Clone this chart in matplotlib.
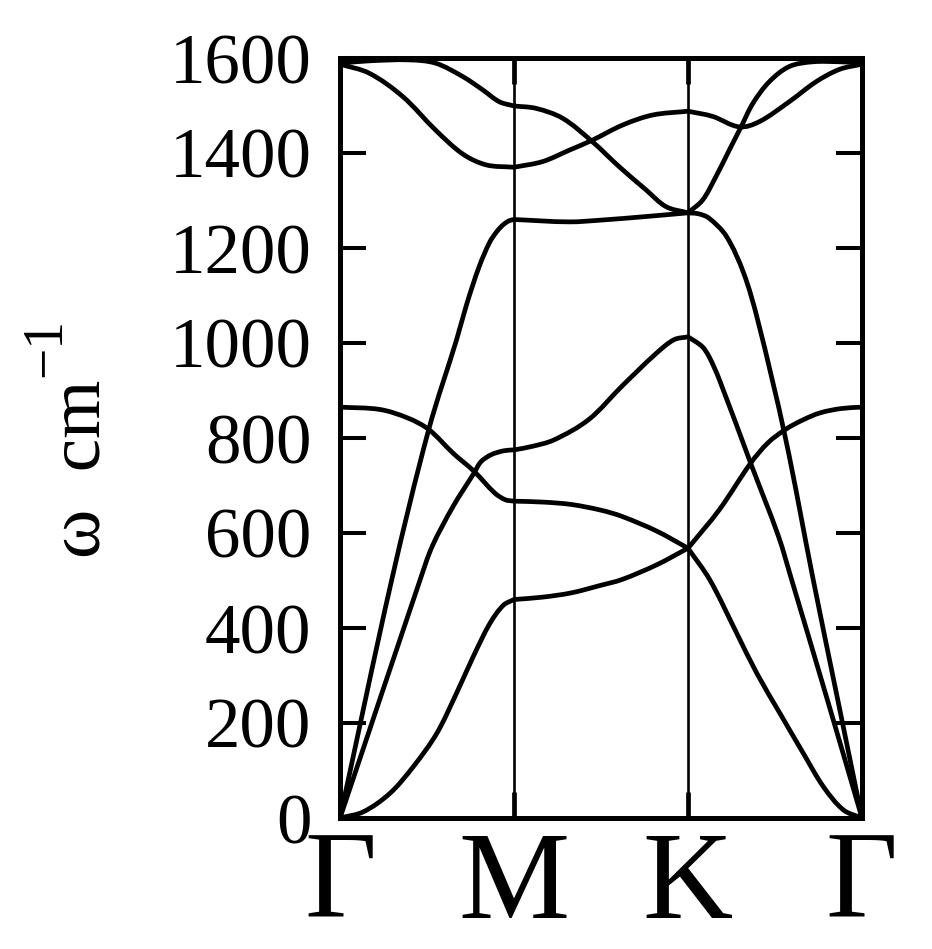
import matplotlib
matplotlib.use("Agg")
import numpy as np
import matplotlib.pyplot as plt
from matplotlib.path import Path
from matplotlib.patches import PathPatch

# k-path positions (segment units: Γ=0, M=1, K=2, Γ=3)
kpts = [0, 1, 2, 3]
klabels = ["Γ", "M", "K", "Γ"]
yticks = [0, 200, 400, 600, 800, 1000, 1200, 1400, 1600]

ZA_t = [0, 0.134, 0.287, 0.421, 0.556, 0.67, 0.766, 0.862, 0.939, 1.0,
        1.165, 1.33, 1.5, 1.62, 1.82, 2.0,
        2.126, 2.28, 2.395, 2.529, 2.663, 2.778, 2.893, 3.0]
ZA_v = [0, 13, 52, 108, 178, 263, 340, 410, 448, 460,
        465, 474, 490, 502, 533, 568,
        501, 389, 305, 220, 136, 66, 17, 0]

ZO_t = [0, 0.23, 0.39, 0.51, 0.65, 0.77, 0.89, 0.95, 1.0,
        1.17, 1.33, 1.5, 1.62, 1.82, 2.0,
        2.18, 2.36, 2.46, 2.56, 2.66, 2.76, 2.88, 3.0]
ZO_v = [865, 860, 842, 818, 768, 730, 684, 670, 667,
        665, 660, 648, 635, 604, 568,
        649, 747, 790, 818, 838, 853, 862, 865]

TA_t = [0, 0.46, 0.53, 0.65, 0.77, 0.81, 0.87, 0.94, 1.0,
        1.1, 1.23, 1.43, 1.62, 1.82, 1.92, 2.0,
        2.08, 2.12, 2.18, 2.36, 2.52, 2.596, 2.80, 3.0]
TA_v = [0, 501, 572, 656, 726, 750, 765, 773, 775,
        782, 796, 839, 909, 979, 1007, 1013,
        993, 972, 923, 747, 593, 501, 250, 0]

LA_t = [0, 0.297, 0.51, 0.67, 0.73, 0.80, 0.86, 0.90, 0.935, 0.97, 1.0,
        1.318, 1.51, 1.75, 2.0,
        2.06, 2.12, 2.22, 2.32, 2.40, 2.56, 2.72, 2.86, 3.0]
LA_v = [0, 501, 818, 1007, 1084, 1161, 1212, 1234, 1248, 1257, 1260,
        1255, 1259, 1266, 1274,
        1272, 1263, 1225, 1147, 1049, 800, 501, 250, 0]

OA_t = [0, 0.168, 0.40, 0.55, 0.705, 0.82, 0.915, 1.0,
        1.126, 1.28, 1.45, 1.605, 1.76, 1.874, 2.0,
        2.084, 2.16, 2.237, 2.305, 2.372, 2.467, 2.582, 2.717, 2.87, 3.0]
OA_v = [1589, 1594, 1596, 1589, 1561, 1533, 1508, 1499,
        1494, 1473, 1424, 1371, 1322, 1287, 1274,
        1301, 1350, 1406, 1455, 1504, 1550, 1582, 1592, 1592, 1590]

OB_t = [0, 0.168, 0.36, 0.55, 0.705, 0.84, 1.0,
        1.165, 1.318, 1.45, 1.625, 1.797, 2.0,
        2.142, 2.295, 2.41, 2.582, 2.736, 2.87, 3.0]
OB_v = [1587, 1568, 1519, 1448, 1398, 1375, 1370,
        1382, 1406, 1427, 1459, 1480, 1488,
        1477, 1455, 1466, 1508, 1550, 1576, 1587]

bands = [(ZA_t, ZA_v), (ZO_t, ZO_v), (TA_t, TA_v), (LA_t, LA_v), (OA_t, OA_v), (OB_t, OB_v)]

plt.rcParams["font.family"] = ["Liberation Serif", "DejaVu Serif"]

fig = plt.figure(figsize=(9.32, 9.49), dpi=100)
ax = fig.add_axes([340/932, 1-818/949, (862-340)/932, (818-58)/949])
ax.set_xlim(0, 3)
ax.set_ylim(0, 1600)

# approximate pixel scale of the axes, used only to shape the smooth curve
SX, SY = 174.0, 0.475


def smooth_path(t, v):
    """Smooth curve through the read points, broken at high-symmetry points."""
    P = np.column_stack([np.asarray(t, float) * SX, np.asarray(v, float) * SY])
    tt = np.asarray(t, float)
    breaks = [i for i in range(len(tt)) if abs(tt[i] - round(tt[i])) < 1e-9]
    verts, codes = [], []
    for a, b in zip(breaks[:-1], breaks[1:]):
        Q = P[a:b + 1]
        n = len(Q)
        U = np.zeros_like(Q)
        for i in range(n):
            if i == 0:
                d = Q[1] - Q[0]
            elif i == n - 1:
                d = Q[-1] - Q[-2]
            else:
                d = Q[i + 1] - Q[i - 1]
            U[i] = d / np.hypot(*d)
        if not verts:
            verts.append(Q[0]); codes.append(Path.MOVETO)
        for i in range(n - 1):
            L = np.hypot(*(Q[i + 1] - Q[i])) / 3.0
            verts += [Q[i] + U[i] * L, Q[i + 1] - U[i + 1] * L, Q[i + 1]]
            codes += [Path.CURVE4] * 3
    verts = np.array(verts) / np.array([SX, SY])
    return Path(verts, codes)


for t, v in bands:
    ax.add_patch(PathPatch(smooth_path(t, v), fill=False, edgecolor="black", lw=3.4,
                           joinstyle="round", capstyle="round", zorder=3))

for k in kpts[1:-1]:
    ax.axvline(k, color="black", lw=1.9, zorder=2)

ax.set_yticks(yticks)
ax.set_yticklabels([str(y) for y in yticks], fontsize=51)
ax.set_xticks(kpts)
ax.set_xticklabels(klabels, fontsize=90)

for s in ax.spines.values():
    s.set_linewidth(3.6)

ax.tick_params(axis="y", direction="in", length=19, width=2.9, left=True, right=True, pad=20.5)
ax.tick_params(axis="x", direction="in", length=19, width=3.4, top=True, bottom=True, pad=9)

# y-axis label: "ω cm" with a raised "−1"
fig.text(100/932, 1-380/949, "ω  cm", rotation=90, rotation_mode="anchor",
         ha="right", va="baseline", fontsize=54)
fig.text(60/932, 1-377/949, "−1", rotation=90, rotation_mode="anchor",
         ha="left", va="baseline", fontsize=40)

fig.savefig("out.png", dpi=100)
